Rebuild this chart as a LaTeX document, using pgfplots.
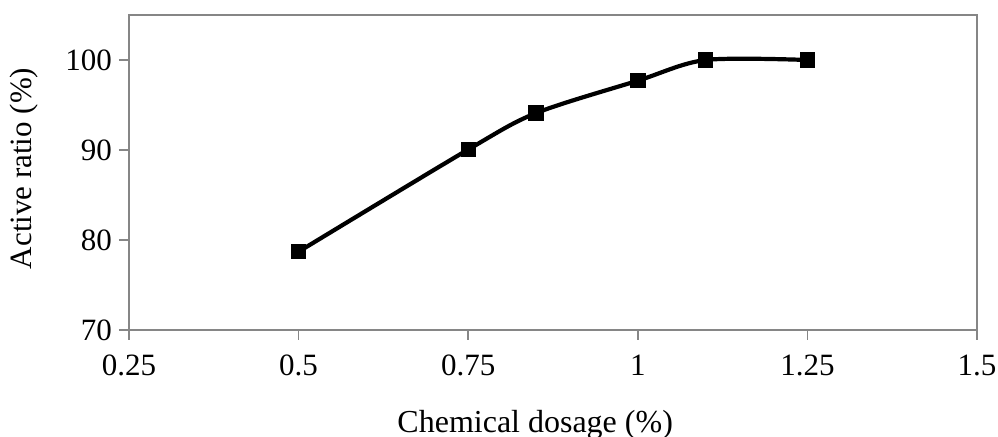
\documentclass[border=0pt]{standalone}
\usepackage{pgfplots}
\pgfplotsset{compat=1.18}
\usepackage{fontspec}
\setmainfont{Liberation Serif}

\definecolor{axisgray}{HTML}{868686}

\begin{document}
\begin{tikzpicture}
	\useasboundingbox (-64.5pt,-53.5pt) rectangle (434.5pt,165pt);
	\begin{axis}[
		scale only axis,
		width=424pt,
		height=157.5pt,
		xmin=0.25, xmax=1.5,
		ymin=70, ymax=105,
		xtick={0.25,0.5,0.75,1,1.25,1.5},
		ytick={70,80,90,100},
		xticklabels={0.25,0.5,0.75,1,1.25,1.5},
		xtick pos=bottom,
		ytick pos=left,
		tick align=outside,
		major tick length=5pt,
		axis line style={axisgray, line width=0.8pt},
		every tick/.style={axisgray, line width=0.8pt},
		font=\fontsize{15.5}{18}\selectfont,
		tick label style={font=\fontsize{15.5}{18}\selectfont},
		/pgf/number format/assume math mode=true,
		xticklabel style={anchor=base, yshift=-18pt},
		yticklabel style={anchor=east},
		xlabel={Chemical dosage (\%)},
		ylabel={Active ratio (\%)},
		xlabel style={font=\fontsize{16}{18}\selectfont, at={([yshift=-51.4pt]axis description cs:0.479,0)}, anchor=base},
		ylabel style={at={([xshift=-48.5pt]axis description cs:0,0.513)}, anchor=base},
	]
		\addplot[black, line width=2.1pt, smooth, mark=square*, mark size=3.6pt,
			mark options={solid, fill=black, line width=0.4pt}]
			coordinates {(0.5,78.7) (0.75,90.05) (0.85,94.1) (1.0,97.7) (1.1,100.0) (1.25,100.0)};
	\end{axis}
\end{tikzpicture}
\end{document}
